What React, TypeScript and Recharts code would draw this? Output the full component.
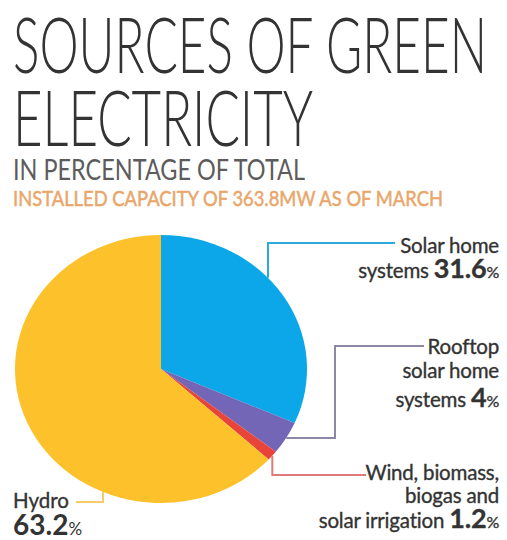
import React from 'react';
import { PieChart, Pie, Cell } from 'recharts';

const categories = ['Solar home systems', 'Rooftop solar home systems', 'Wind, biomass, biogas and solar irrigation', 'Hydro'];
const shares = [31.6, 4, 1.2, 63.2];
const sliceColors = ['#0BA7E8', '#7366B6', '#E8443A', '#FDC12B'];
const lineColors = ['#2EA9DC', '#8C86A8', '#E07A7A', '#F4CB6A'];

const data = categories.map((name, i) => ({ name, value: shares[i] }));

// pie geometry (slightly wider than tall, like the print graphic)
const CX = 161;
const CY = 369;
const RY = 134;
const RX = 146;
const BOX = 300;

const font = "Lato, 'Open Sans', sans-serif";

// point on the pie rim at a cumulative fraction (clockwise from 12 o'clock)
const rimAt = (frac: number) => {
  const a = frac * 2 * Math.PI;
  return { x: CX + RX * Math.sin(a), y: CY - RY * Math.cos(a) };
};
const rimYAtX = (x: number, top: boolean) => {
  const t = (x - CX) / RX;
  const d = RY * Math.sqrt(1 - t * t);
  return top ? CY - d : CY + d;
};

const total = shares.reduce((a, b) => a + b, 0);
const midFrac = (i: number) => (shares.slice(0, i).reduce((a, b) => a + b, 0) + shares[i] / 2) / total;

const Labels = () => {
  const purple = rimAt(midFrac(1));
  const red = rimAt(midFrac(2));
  const txt = {
    fontFamily: font,
    fontSize: 20.5,
    fill: '#333',
    stroke: '#333',
    strokeWidth: 0.35,
    letterSpacing: -0.2,
    textAnchor: 'end' as const,
  };
  return (
    <svg width={507} height={540} style={{ position: 'absolute', left: 0, top: 0 }}>
      <text x={13} y={73} fontFamily={font} fontWeight={300} fontSize={76} fill="#333" textLength={474} lengthAdjust="spacingAndGlyphs">SOURCES OF GREEN</text>
      <text x={13} y={146} fontFamily={font} fontWeight={300} fontSize={76} fill="#333" textLength={300} lengthAdjust="spacingAndGlyphs">ELECTRICITY</text>
      <text x={13} y={180} fontFamily={font} fontSize={29} fill="#5C5C5C" textLength={292} lengthAdjust="spacingAndGlyphs">IN PERCENTAGE OF TOTAL</text>
      <text x={13} y={206} fontFamily={font} fontSize={21} fill="#E9A66A" stroke="#E9A66A" strokeWidth={0.5} textLength={430} lengthAdjust="spacingAndGlyphs">INSTALLED CAPACITY OF 363.8MW AS OF MARCH</text>

      <path d={`M268,${rimYAtX(268, true)} V243 H395`} fill="none" stroke={lineColors[0]} strokeWidth={2} />
      <path d={`M${purple.x},${purple.y} H335 V346 H424`} fill="none" stroke={lineColors[1]} strokeWidth={2} />
      <path d={`M${red.x},${red.y} V475 H366`} fill="none" stroke={lineColors[2]} strokeWidth={2} />
      <path d={`M76,502 H103 V${rimYAtX(103, false)}`} fill="none" stroke={lineColors[3]} strokeWidth={2} />

      <text x={499} y={253} {...txt}>Solar home</text>
      <text x={499} y={278} {...txt}>
        systems <tspan fontWeight={700} fontSize={27}>{shares[0]}</tspan><tspan fontSize={16}>%</tspan>
      </text>

      <text x={499} y={354} {...txt}>Rooftop</text>
      <text x={499} y={378} {...txt}>solar home</text>
      <text x={499} y={407} {...txt}>
        systems <tspan fontWeight={700} fontSize={27}>{shares[1]}</tspan><tspan fontSize={16}>%</tspan>
      </text>

      <text x={499} y={480} {...txt}>Wind, biomass,</text>
      <text x={499} y={503} {...txt}>biogas and</text>
      <text x={499} y={528} {...txt}>
        solar irrigation <tspan fontWeight={700} fontSize={27}>{shares[2]}</tspan><tspan fontSize={16}>%</tspan>
      </text>

      <text x={13} y={508} fontFamily={font} fontSize={20.5} fill="#333" stroke="#333" strokeWidth={0.35}>Hydro</text>
      <text x={13} y={535} fontFamily={font} fill="#333">
        <tspan fontWeight={700} fontSize={28}>{shares[3]}</tspan><tspan fontSize={17}>%</tspan>
      </text>
    </svg>
  );
};

export default function App() {
  return (
    <div style={{ position: 'absolute', left: 0, top: 0, width: 507, height: 540, background: '#fff', overflow: 'hidden' }}>
      <div
        style={{
          position: 'absolute',
          left: CX - BOX / 2,
          top: CY - BOX / 2,
          width: BOX,
          height: BOX,
          transform: `scaleX(${RX / RY})`,
          transformOrigin: `${BOX / 2}px ${BOX / 2}px`,
        }}
      >
        <PieChart width={BOX} height={BOX} margin={{ top: 0, right: 0, bottom: 0, left: 0 }}>
          <Pie
            data={data}
            dataKey="value"
            nameKey="name"
            cx={BOX / 2}
            cy={BOX / 2}
            outerRadius={RY}
            startAngle={90}
            endAngle={-270}
            stroke="none"
            isAnimationActive={false}
          >
            {data.map((d, i) => (
              <Cell key={d.name} fill={sliceColors[i]} />
            ))}
          </Pie>
        </PieChart>
      </div>
      <Labels />
    </div>
  );
}
